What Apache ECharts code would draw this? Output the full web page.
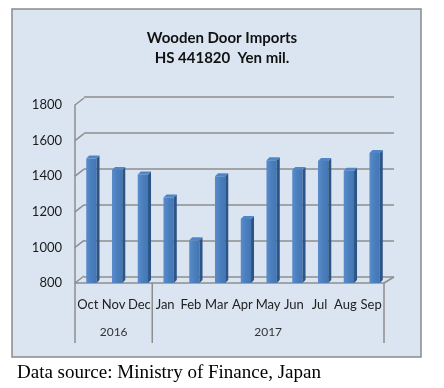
<!DOCTYPE html>
<html>
<head>
<meta charset="utf-8">
<style>html,body{margin:0;padding:0;background:#fff;}#c{width:444px;height:388px;}</style>
<script src="https://cdn.jsdelivr.net/npm/echarts@6/dist/echarts.min.js"></script>
</head>
<body>
<div id="c"></div>
<script>
const months = ['Oct','Nov','Dec','Jan','Feb','Mar','Apr','May','Jun','Jul','Aug','Sep'];
const yearLabels = ['', '2016', '', '', '', '', '', '2017', '', '', '', ''];
const yearBoundaries = [0, 3, 12];
const imports = [1500, 1435, 1410, 1280, 1040, 1400, 1160, 1490, 1435, 1485, 1430, 1530];
const yTicks = [800, 1000, 1200, 1400, 1600, 1800];

const chart = echarts.init(document.getElementById('c'));
const gridColor = '#8e8e8e';
const FONT = 'Lato';

chart.setOption({
  animation: false,
  graphic: [{
    type: 'rect', z: -10, silent: true,
    shape: {x: 12, y: 9, width: 409, height: 348},
    style: {fill: '#dbe5f1', stroke: '#8a8a8a', lineWidth: 1.5}
  }],
  title: [{
    text: 'Wooden Door Imports\nHS 441820  Yen mil.',
    left: 217, top: 23, textAlign: 'center',
    textStyle: {fontFamily: FONT, fontWeight: 'bold', fontSize: 15, lineHeight: 20, color: '#111'}
  }, {
    text: 'Data source: Ministry of Finance, Japan',
    left: 12, top: 359,
    textStyle: {fontFamily: 'Liberation Serif', fontWeight: 'normal', fontSize: 19, color: '#000'}
  }],
  grid: [
    {left: 84, right: 50, top: 97, bottom: 111},
    {left: 75, right: 60, top: 105, bottom: 105}
  ],
  xAxis: [
    {type: 'category', gridIndex: 0, data: months, show: false},
    {type: 'category', gridIndex: 1, data: months, position: 'bottom',
     axisLine: {show: true, lineStyle: {color: gridColor, width: 1.5}},
     axisTick: {show: false},
     axisLabel: {interval: 0, margin: 15, fontFamily: FONT, fontSize: 13, color: '#222'}},
    {type: 'category', gridIndex: 1, data: yearLabels, position: 'bottom',
     axisLine: {show: false}, axisTick: {show: false},
     axisLabel: {interval: 0, margin: 43, fontFamily: FONT, fontSize: 12, color: '#333'}}
  ],
  yAxis: [
    {type: 'value', gridIndex: 0, min: 800, max: 1800, interval: 200,
     axisLine: {show: false}, axisTick: {show: false}, axisLabel: {show: false},
     splitLine: {show: true, lineStyle: {color: gridColor, width: 1.5}}},
    {type: 'value', gridIndex: 1, min: 800, max: 1800, interval: 200,
     axisLine: {show: true, lineStyle: {color: gridColor, width: 1.5}},
     axisTick: {show: false}, splitLine: {show: false},
     axisLabel: {margin: 13, fontFamily: FONT, fontSize: 13, color: '#1a1a1a', padding: [4, 0, 0, 0],
                 formatter: v => String(v)}}
  ],
  series: [
    {
      type: 'custom', xAxisIndex: 1, yAxisIndex: 1, silent: true, clip: false, z: 1,
      data: yTicks.map(v => [0, v]),
      renderItem: function (params, api) {
        const cs = params.coordSys;
        const y = api.coord([0, api.value(1)])[1];
        const children = [{
          type: 'line', shape: {x1: cs.x, y1: y, x2: cs.x + 9, y2: y - 7},
          style: {stroke: gridColor, lineWidth: 1.5}
        }];
        if (api.value(1) === yTicks[0]) {
          children.push({
            type: 'line', shape: {x1: cs.x + cs.width, y1: y, x2: cs.x + cs.width + 10, y2: y - 6},
            style: {stroke: gridColor, lineWidth: 1.5}
          });
        }
        return {type: 'group', children: children};
      }
    },
    {
      type: 'custom', xAxisIndex: 1, yAxisIndex: 1, silent: true, clip: false, z: 1,
      data: yearBoundaries.map(b => [0, b]),
      renderItem: function (params, api) {
        const cs = params.coordSys;
        const x = cs.x + api.value(1) * cs.width / months.length;
        const y0 = cs.y + cs.height;
        return {type: 'line', shape: {x1: x, y1: y0, x2: x, y2: y0 + 60},
                style: {stroke: gridColor, lineWidth: 1.5}};
      }
    },
    {
      type: 'custom', xAxisIndex: 1, yAxisIndex: 1, silent: true, clip: false, z: 3,
      data: imports.map((v, i) => [i, v]),
      renderItem: function (params, api) {
        const top = api.coord([api.value(0), api.value(1)]);
        const base = api.coord([api.value(0), 800]);
        const bw = api.size([1, 0])[0];
        const w = bw * 0.40, d = 3, off = 3.5;
        const x0 = top[0] + off - w / 2, x1 = x0 + w;
        const yt = top[1], yb = base[1];
        return {type: 'group', children: [
          {type: 'rect', shape: {x: x0, y: yt, width: w, height: yb - yt},
           style: {fill: new echarts.graphic.LinearGradient(0, 0, 1, 0, [
             {offset: 0, color: '#5a8ccb'}, {offset: 0.5, color: '#4a7ebc'}, {offset: 1, color: '#4377b4'}])}},
          {type: 'polygon', shape: {points: [[x1, yt], [x1 + d, yt - d], [x1 + d, yb - d], [x1, yb]]},
           style: {fill: '#2d5486'}},
          {type: 'polygon', shape: {points: [[x0, yt], [x1, yt], [x1 + d, yt - d], [x0 + d, yt - d]]},
           style: {fill: '#4f86c8'}}
        ]};
      }
    }
  ]
});
</script>
</body>
</html>
